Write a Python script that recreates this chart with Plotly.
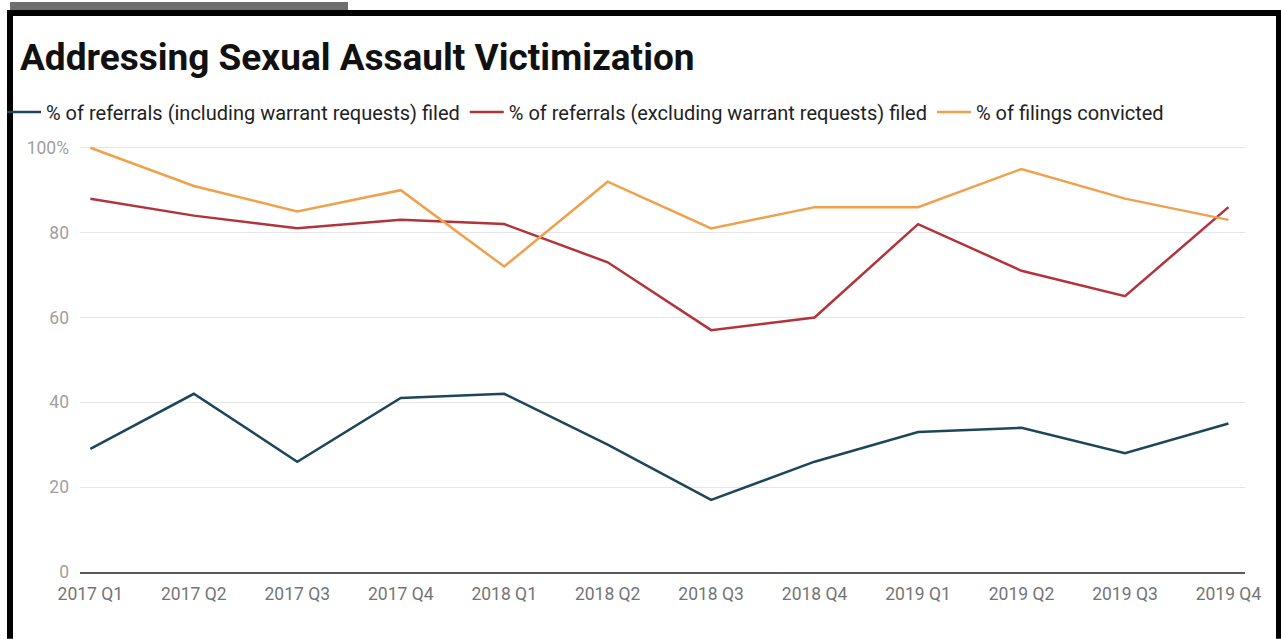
import plotly.graph_objects as go

quarters = ["2017 Q1", "2017 Q2", "2017 Q3", "2017 Q4",
            "2018 Q1", "2018 Q2", "2018 Q3", "2018 Q4",
            "2019 Q1", "2019 Q2", "2019 Q3", "2019 Q4"]
incl_warrant = [29, 42, 26, 41, 42, 30, 17, 26, 33, 34, 28, 35]
excl_warrant = [88, 84, 81, 83, 82, 73, 57, 60, 82, 71, 65, 86]
convicted = [100, 91, 85, 90, 72, 92, 81, 86, 86, 95, 88, 83]
y_ticks = [0, 20, 40, 60, 80, 100]
y_labels = ["0", "20", "40", "60", "80", "100%"]

W, H = 1281, 639
L, R, T, B = 80, 36, 142, 67
PW, PH = W - L - R, H - T - B


def px(x):
    return (x - L) / PW


def py(y):
    return (H - B - y) / PH


fig = go.Figure()
series = [
    ("% of referrals (including warrant requests) filed", incl_warrant, "#1d4658"),
    ("% of referrals (excluding warrant requests) filed", excl_warrant, "#b3333b"),
    ("% of filings convicted", convicted, "#f1a04c"),
]
for name, vals, color in series:
    fig.add_trace(go.Scatter(x=quarters, y=vals, name=name, mode="lines",
                             line=dict(color=color, width=2.5)))

# frame around the screenshot
frame = [
    (10, 0, 348, 8, "#6e6e6e"),
    (7, 8, 1281, 14, "black"),
    (7, 8, 13, 639, "black"),
    (1276, 8, 1281, 639, "black"),
]
for x0, y0, x1, y1, c in frame:
    fig.add_shape(type="rect", xref="paper", yref="paper",
                  x0=px(x0), x1=px(x1), y0=py(y1), y1=py(y0),
                  fillcolor=c, line_width=0, layer="above")

fig.update_layout(
    width=W, height=H,
    margin=dict(l=L, r=R, t=T, b=B),
    paper_bgcolor="white", plot_bgcolor="white",
    font=dict(family="Roboto", color="#757575", size=17),
    title=dict(text="<b>Addressing Sexual Assault Victimization</b>",
               xref="container", yref="container", x=20 / W, xanchor="left",
               y=1 - 57 / H, yanchor="middle",
               font=dict(family="Roboto", size=37, color="#111111")),
    legend=dict(orientation="h", xref="container", yref="container",
                x=2 / W, xanchor="left", y=1 - 112 / H, yanchor="middle",
                itemwidth=34, font=dict(size=20, color="#222222"),
                bgcolor="rgba(0,0,0,0)"),
    xaxis=dict(range=[-0.1, 11.16], showgrid=False, showline=True,
               linecolor="#5a5a5a", linewidth=1.5, ticks="", ticklabelstandoff=5,
               tickfont=dict(size=17.5, color="#757575")),
    yaxis=dict(range=[0, 101], tickvals=y_ticks, ticktext=y_labels, showgrid=True,
               gridcolor="#e6e6e6", zeroline=False, ticks="", ticklabelstandoff=10,
               tickfont=dict(size=17.5, color="#a0a0a0"), automargin=False),
)

fig.write_html("out.html", config={"displayModeBar": False},
               post_script="document.body.style.margin='0';")
